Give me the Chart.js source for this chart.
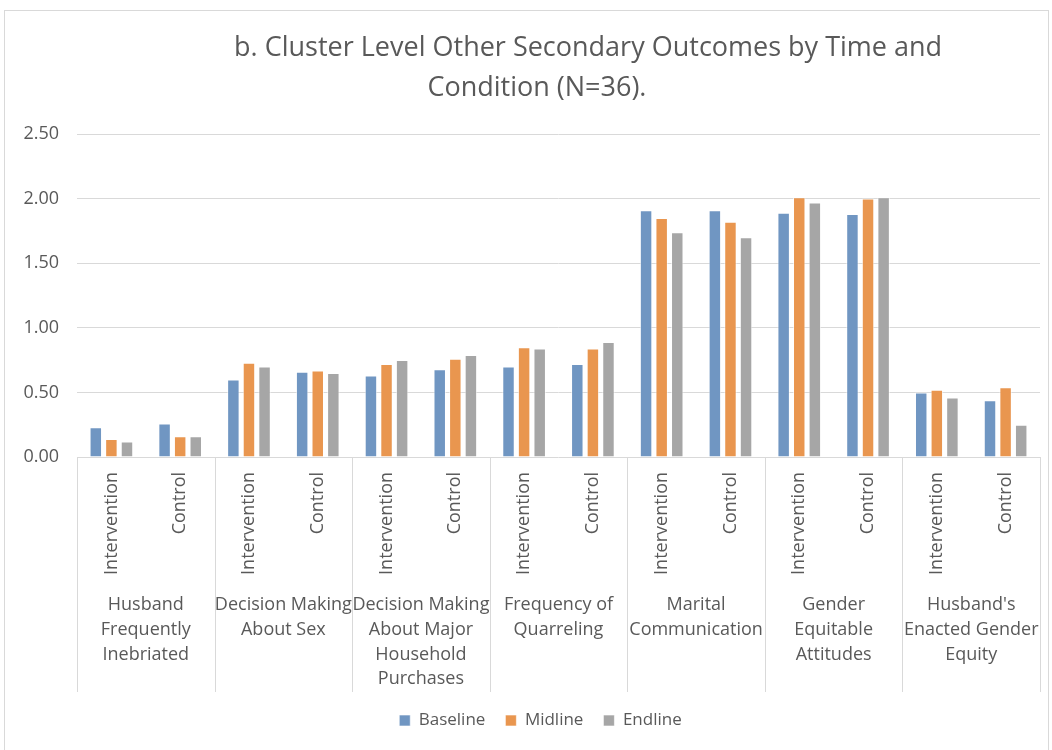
<!DOCTYPE html>
<html>
<head>
<meta charset="utf-8">
<script src="https://cdn.jsdelivr.net/npm/chart.js@4.4.1/dist/chart.umd.min.js"></script>
<style>
  html, body { margin: 0; padding: 0; background: #fff; overflow: hidden; }
  #frame { position: absolute; left: 4px; top: 10px; width: 1045px; height: 750px; border: 1px solid #d9d9d9; box-sizing: border-box; }
  #wrap { position: absolute; left: 0; top: 0; width: 1044px; height: 740px; }
</style>
</head>
<body>
<div id="frame"><div id="wrap"><canvas id="chart"></canvas></div></div>
<script>
// categories
const conditions = ['Intervention', 'Control'];
const outcomes = [
  ['Husband', 'Frequently', 'Inebriated'],
  ['Decision Making', 'About Sex'],
  ['Decision Making', 'About Major', 'Household', 'Purchases'],
  ['Frequency of', 'Quarreling'],
  ['Marital', 'Communication'],
  ['Gender', 'Equitable', 'Attitudes'],
  ["Husband's", 'Enacted Gender', 'Equity'],
];
const labels = outcomes.flatMap(() => conditions);
const titleLines = ['b. Cluster Level Other Secondary Outcomes by Time and', 'Condition (N=36).'];

// series values (intervention, control per outcome)
const baseline = [0.23, 0.26, 0.60, 0.66, 0.63, 0.68, 0.70, 0.72, 1.91, 1.91, 1.89, 1.88, 0.50, 0.44];
const midline  = [0.14, 0.16, 0.73, 0.67, 0.72, 0.76, 0.85, 0.84, 1.85, 1.82, 2.01, 2.00, 0.52, 0.54];
const endline  = [0.12, 0.16, 0.70, 0.65, 0.75, 0.79, 0.84, 0.89, 1.74, 1.70, 1.97, 2.01, 0.46, 0.25];

const FONT = '"Open Sans", "Liberation Sans", sans-serif';
const TEXT = '#595959';
const GRID = '#d9d9d9';

// Excel-style title: each wrapped line has its own centre
const titleText = {
  id: 'titleText',
  afterDraw(chart) {
    const ctx = chart.ctx;
    const w = chart.width;
    const centers = [w * 0.5585, w * 0.5095];
    ctx.save();
    ctx.fillStyle = TEXT;
    ctx.font = '27px ' + FONT;
    ctx.textAlign = 'center';
    ctx.textBaseline = 'middle';
    titleLines.forEach((line, i) => ctx.fillText(line, centers[i], 37 + i * 40));
    ctx.restore();
  },
};

// legend sits a bit right of centre in the original
const legendShift = {
  id: 'legendShift',
  afterLayout(chart) {
    if (chart.legend) {
      chart.legend.left += 18;
      chart.legend.right += 18;
    }
  },
};

// second level of the category axis: separators + outcome names
const groupAxis = {
  id: 'groupAxis',
  afterDraw(chart) {
    const x = chart.scales.x;
    const ctx = chart.ctx;
    const area = chart.chartArea;
    const depth = 235;
    ctx.save();
    ctx.strokeStyle = GRID;
    ctx.lineWidth = 1;
    for (let g = 0; g <= outcomes.length; g++) {
      let px;
      if (g === 0) px = area.left;
      else if (g === outcomes.length) px = area.right;
      else px = (x.getPixelForValue(2 * g - 1) + x.getPixelForValue(2 * g)) / 2;
      px = Math.round(px) + 0.5;
      ctx.beginPath();
      ctx.moveTo(px, x.top);
      ctx.lineTo(px, x.top + depth);
      ctx.stroke();
    }
    ctx.fillStyle = TEXT;
    ctx.font = '18px ' + FONT;
    ctx.textAlign = 'center';
    ctx.textBaseline = 'middle';
    outcomes.forEach((lines, g) => {
      const cx = (x.getPixelForValue(2 * g) + x.getPixelForValue(2 * g + 1)) / 2;
      lines.forEach((line, i) => {
        ctx.fillText(line, cx, x.top + 148 + i * 24.7);
      });
    });
    ctx.restore();
  },
};

const bar = (label, data, color) => ({
  label,
  data,
  backgroundColor: color,
  borderColor: 'rgba(255,255,255,0.6)',
  borderWidth: 1,
  barPercentage: 0.8,
  categoryPercentage: 0.68,
});

new Chart(document.getElementById('chart'), {
  type: 'bar',
  data: {
    labels,
    datasets: [
      bar('Baseline', baseline, '#7096c2'),
      bar('Midline', midline, '#e9964f'),
      bar('Endline', endline, '#a6a6a6'),
    ],
  },
  options: {
    responsive: true,
    maintainAspectRatio: false,
    animation: false,
    layout: { padding: { left: 0, right: 9, top: 123, bottom: 12 } },
    plugins: {
      title: { display: false },
      legend: {
        position: 'bottom',
        labels: {
          color: TEXT,
          font: { family: FONT, size: 17 },
          boxWidth: 11,
          boxHeight: 11,
          padding: 20,
        },
      },
      tooltip: { enabled: false },
    },
    scales: {
      x: {
        grid: { display: false, drawTicks: false },
        border: { display: false },
        ticks: {
          color: TEXT,
          font: { family: FONT, size: 18 },
          minRotation: 90,
          maxRotation: 90,
          padding: 15,
          autoSkip: false,
        },
        afterFit(scale) { scale.height = 235; },
      },
      y: {
        min: 0,
        max: 2.5,
        grid: { color: GRID, lineWidth: 1, drawTicks: false },
        border: { display: false },
        ticks: {
          stepSize: 0.5,
          color: TEXT,
          font: { family: FONT, size: 18 },
          padding: 18,
          callback: v => v.toFixed(2),
        },
        afterFit(scale) { scale.width = 72; },
      },
    },
  },
  plugins: [groupAxis, titleText, legendShift],
});
</script>
</body>
</html>
